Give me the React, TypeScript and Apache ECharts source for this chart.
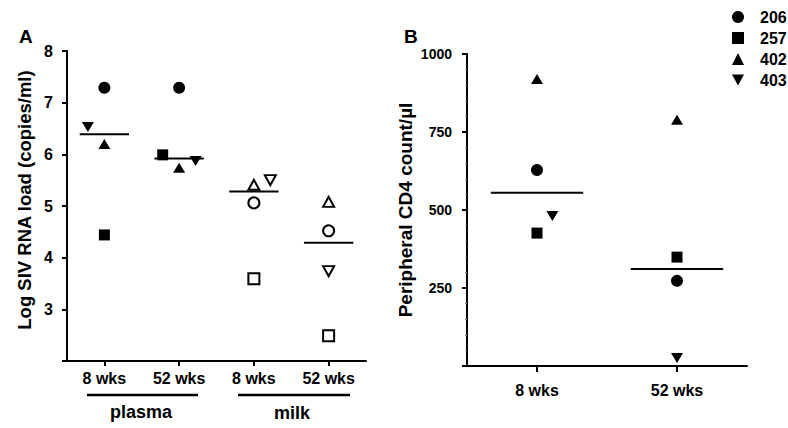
import React, { useEffect, useRef } from 'react';
import * as echarts from 'echarts';

// ---- data ----
const animals = ['206', '257', '402', '403'];
const animalSymbols = ['circle', 'rect', 'triangle', 'path://M0,0L10,0L5,9Z'];
const sampleGroups = ['plasma', 'milk'];
const tickLabelsA = ['8 wks', '52 wks', '8 wks', '52 wks'];
const hollowA = [false, false, true, true];

// Log SIV RNA load per animal: plasma 8 wks, plasma 52 wks, milk 8 wks, milk 52 wks
const load206 = [7.29, 7.29, 5.06, 4.52];
const load257 = [4.44, 5.99, 3.59, 2.49];
const load402 = [6.2, 5.74, 5.41, 5.08];
const load403 = [6.53, 5.87, 5.5, 3.74];
// horizontal jitter of each point (in category units)
const jitter206A = [0, 0, 0, 0];
const jitter257A = [0, -0.22, 0, 0];
const jitter402A = [0, 0, 0, 0];
const jitter403A = [-0.22, 0.22, 0.22, 0];
const medianA = [6.39, 5.92, 5.28, 4.29];

// Peripheral CD4 count per animal: 8 wks, 52 wks
const tickLabelsB = ['8 wks', '52 wks'];
const cd4_206 = [628, 273];
const cd4_257 = [426, 349];
const cd4_402 = [920, 789];
const cd4_403 = [481, 26];
const jitter206B = [0, 0];
const jitter257B = [0, 0];
const jitter402B = [0, 0];
const jitter403B = [0.11, 0];
const medianB = [555, 311];

const loadsA = [load206, load257, load402, load403];
const jittersA = [jitter206A, jitter257A, jitter402A, jitter403A];
const cd4B = [cd4_206, cd4_257, cd4_402, cd4_403];
const jittersB = [jitter206B, jitter257B, jitter402B, jitter403B];

const FONT = '"Liberation Sans", Arial, Helvetica, sans-serif';
const symbolSizes: any[] = [12, 11, [12, 10], [12, 10]];
const hollowSizes: any[] = [11, 11, [11, 10], [11, 10]];

export default function App() {
  const ref = useRef<HTMLDivElement>(null);
  useEffect(() => {
    if (!ref.current) return;
    const chart = echarts.init(ref.current, null, { renderer: 'svg' });

    const axisLine = { show: true, onZero: false, lineStyle: { color: '#000', width: 2 } };
    const tickLabelStyle = { color: '#000', fontFamily: FONT, fontWeight: 'bold' as const };
    const solid = { color: '#000', opacity: 1 };

    const series: any[] = [];
    animals.forEach((name, a) => {
      series.push({
        name,
        type: 'scatter',
        xAxisIndex: 1,
        yAxisIndex: 0,
        symbol: animalSymbols[a],
        symbolSize: symbolSizes[a],
        itemStyle: solid,
        data: loadsA[a].map((v, i) =>
          hollowA[i]
            ? {
                value: [i + jittersA[a][i], v],
                symbolSize: hollowSizes[a],
                itemStyle: { color: '#fff', borderColor: '#000', borderWidth: 2, opacity: 1 },
              }
            : { value: [i + jittersA[a][i], v] }
        ),
        z: 3,
      });
      series.push({
        name,
        type: 'scatter',
        xAxisIndex: 3,
        yAxisIndex: 1,
        symbol: animalSymbols[a],
        symbolSize: symbolSizes[a],
        itemStyle: solid,
        data: cd4B[a].map((v, i) => [i + jittersB[a][i], v]),
        z: 3,
      });
    });
    medianA.forEach((m, i) => {
      series.push({
        type: 'line',
        xAxisIndex: 1,
        yAxisIndex: 0,
        symbol: 'none',
        silent: true,
        lineStyle: { color: '#000', width: 2 },
        data: [
          [i - 0.33, m],
          [i + 0.33, m],
        ],
        z: 2,
      });
    });
    medianB.forEach((m, i) => {
      series.push({
        type: 'line',
        xAxisIndex: 3,
        yAxisIndex: 1,
        symbol: 'none',
        silent: true,
        lineStyle: { color: '#000', width: 2 },
        data: [
          [i - 0.33, m],
          [i + 0.33, m],
        ],
        z: 2,
      });
    });

    const option: any = {
      animation: false,
      backgroundColor: '#fff',
      title: [
        { text: 'A', left: 14, top: 22, textStyle: { fontFamily: FONT, fontWeight: 'bold', fontSize: 19, color: '#000' } },
        { text: 'B', left: 399, top: 22, textStyle: { fontFamily: FONT, fontWeight: 'bold', fontSize: 19, color: '#000' } },
      ],
      legend: {
        orient: 'vertical',
        left: 727,
        top: 4,
        itemWidth: 12,
        itemHeight: 12,
        itemGap: 5,
        selectedMode: false,
        textStyle: { fontFamily: FONT, fontWeight: 'bold', fontSize: 16, color: '#000', lineHeight: 16, padding: [0, 0, 0, 11] },
        data: animals.map((n, a) => ({ name: n, icon: animalSymbols[a], itemStyle: { color: '#000', opacity: 1 } })),
      },
      grid: [
        { left: 67, top: 51, width: 299, height: 310 },
        { left: 467, top: 54, width: 280, height: 312 },
      ],
      xAxis: [
        {
          type: 'category',
          gridIndex: 0,
          data: tickLabelsA.map((t, i) => sampleGroups[Math.floor(i / 2)] + '|' + t),
          axisLine,
          axisTick: { show: true, alignWithLabel: true, length: 5, lineStyle: { color: '#000', width: 2 } },
          axisLabel: { ...tickLabelStyle, fontSize: 16, margin: 9, formatter: (v: string) => v.split('|')[1] },
        },
        { type: 'value', gridIndex: 0, min: -0.5, max: 3.5, show: false },
        {
          type: 'category',
          gridIndex: 1,
          data: tickLabelsB,
          axisLine,
          axisTick: { show: true, alignWithLabel: true, length: 6, lineStyle: { color: '#000', width: 2 } },
          axisLabel: { ...tickLabelStyle, fontSize: 16, margin: 16 },
        },
        { type: 'value', gridIndex: 1, min: -0.5, max: 1.5, show: false },
      ],
      yAxis: [
        {
          type: 'value',
          gridIndex: 0,
          min: 2,
          max: 8,
          interval: 1,
          axisLine,
          axisTick: { show: true, length: 5, lineStyle: { color: '#000', width: 2 } },
          splitLine: { show: false },
          axisLabel: { ...tickLabelStyle, fontSize: 16, margin: 14, formatter: (v: number) => (v === 2 ? '' : String(v)) },
          name: 'Log SIV RNA load (copies/ml)',
          nameLocation: 'middle',
          nameGap: 33,
          nameTextStyle: { fontFamily: FONT, fontWeight: 'bold', fontSize: 18.5, color: '#000', padding: [0, 0, 0, 12] },
        },
        {
          type: 'value',
          gridIndex: 1,
          min: 0,
          max: 1000,
          interval: 250,
          axisLine,
          axisTick: { show: true, length: 5, lineStyle: { color: '#000', width: 2 } },
          minorTick: { show: true, splitNumber: 5, length: 2, lineStyle: { color: '#888', width: 1 } },
          splitLine: { show: false },
          axisLabel: { ...tickLabelStyle, fontSize: 14, margin: 15, formatter: (v: number) => (v === 0 ? '' : String(v)) },
          name: 'Peripheral CD4 count/µl',
          nameLocation: 'middle',
          nameGap: 52,
          nameTextStyle: { fontFamily: FONT, fontWeight: 'bold', fontSize: 19, color: '#000' },
        },
      ],
      graphic: [
        { type: 'line', shape: { x1: 87, y1: 395, x2: 198, y2: 395 }, style: { stroke: '#000', lineWidth: 2.5 } },
        { type: 'line', shape: { x1: 238, y1: 395, x2: 350, y2: 395 }, style: { stroke: '#000', lineWidth: 2.5 } },
        {
          type: 'text',
          x: 141,
          y: 412,
          style: { text: sampleGroups[0], fill: '#000', font: `bold 18px ${FONT}`, textAlign: 'center', textVerticalAlign: 'middle' },
        },
        {
          type: 'text',
          x: 292,
          y: 413,
          style: { text: sampleGroups[1], fill: '#000', font: `bold 18px ${FONT}`, textAlign: 'center', textVerticalAlign: 'middle' },
        },
      ],
      series,
    };
    chart.setOption(option);
    return () => chart.dispose();
  }, []);
  return <div ref={ref} style={{ position: 'fixed', left: 0, top: 0, width: 788, height: 428, background: '#fff' }} />;
}
